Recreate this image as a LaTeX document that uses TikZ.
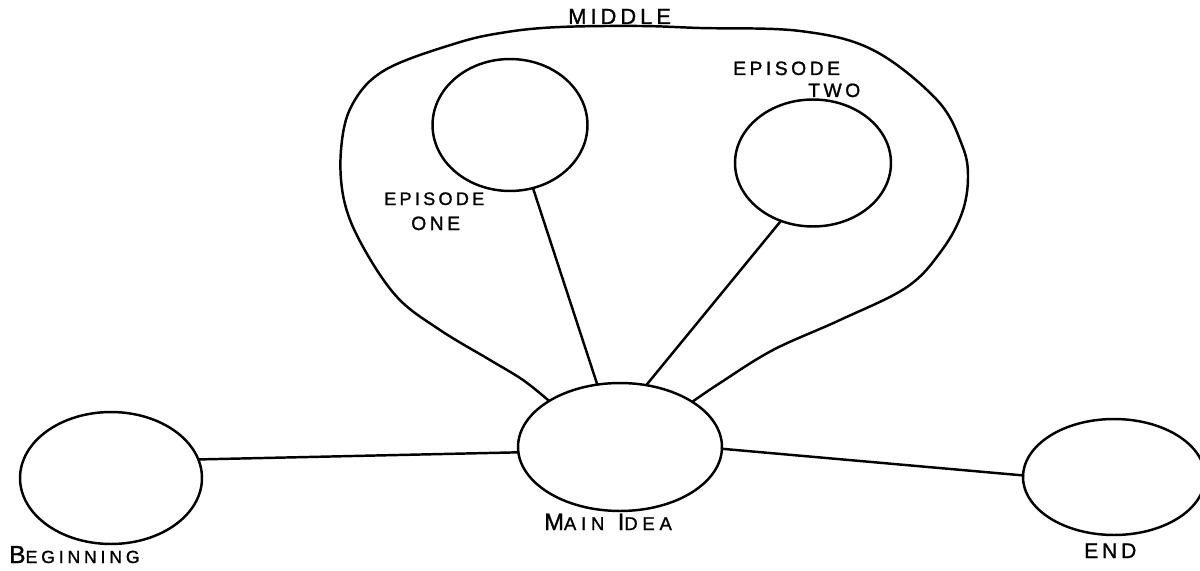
\documentclass[tikz,border=0pt]{standalone}
\usepackage{fontspec}
\setmainfont{Liberation Sans}
\newfontfamily\handfont[LetterSpace=18, FakeBold=1.2]{Liberation Sans}
\usetikzlibrary{shapes.geometric}
\begin{document}
\begin{tikzpicture}[x=0.02cm,y=-0.02cm,
  line width=1.4pt, line cap=round, line join=round,
  blob/.style={draw, ellipse, inner sep=0pt, outer sep=0pt},
  lbl/.style={inner sep=0pt, anchor=base west, font=\handfont\fontsize{10.3}{12}\selectfont},
  lblb/.style={inner sep=0pt, anchor=base west, font=\handfont\fontsize{11}{13}\selectfont},
]
\useasboundingbox[fill=white] (0,0) rectangle (1200,571);

% nodes
\node[blob, minimum width=3.64cm, minimum height=2.64cm] (begin) at (111,478) {};
\node[blob, minimum width=4.08cm, minimum height=2.56cm] (main) at (620,447) {};
\node[blob, minimum width=3.64cm, minimum height=2.32cm] (endn) at (1114,477) {};
\node[blob, minimum width=3.1cm, minimum height=2.64cm] (ep1) at (510,125) {};
\node[blob, minimum width=3.12cm, minimum height=2.54cm] (ep2) at (813,163) {};

% connectors
\draw (begin.12) -- (main.183);
\draw (main.359) -- (endn.179);
\draw (ep1.290) -- (main.110);
\draw (ep2.241) -- (main.67);

% the MIDDLE loop
\draw plot[smooth, tension=0.6] coordinates {
  (main.147) (523,380) (490,360) (440,330) (397,297) (362,245)
  (344,200) (341,150) (352,105) (385,70) (457,43) (507,32)
  (560,27) (640,26) (700,28) (800,31) (873,50) (937,100)
  (962,145) (968,177) (962,213) (942,250) (907,287) (840,320) (773,350)
  (720,383) (main.32)};

% labels
\node[inner sep=0pt, anchor=base west] (middle) at (567,24)
  {\handfont\fontsize{12.5}{14}\selectfont MIDDLE};
\node[lbl] (ep1a) at (383,205) {EPISODE};
\node[lblb] (ep1b) at (410,230) {ONE};
\node[lblb] (ep2a) at (732,75) {EPISODE};
\node[lblb] (ep2b) at (807,97) {TWO};
\node[inner sep=0pt, anchor=base west] (mainlbl) at (543,530)
  {\handfont\addfontfeature{LetterSpace=26}\fontsize{13.5}{15}\selectfont M\fontsize{10.5}{12}\selectfont AIN\hspace{2pt}
   \fontsize{13.5}{15}\selectfont I\fontsize{10.5}{12}\selectfont DEA};
\node[inner sep=0pt, anchor=base west] (beginlbl) at (8,563)
  {\handfont\addfontfeature{LetterSpace=22}\fontsize{14}{16}\selectfont B\fontsize{10}{12}\selectfont EGINNING};
\node[inner sep=0pt, anchor=base west] (endlbl) at (1083,558)
  {\handfont\fontsize{12}{14}\selectfont END};
\end{tikzpicture}
\end{document}
